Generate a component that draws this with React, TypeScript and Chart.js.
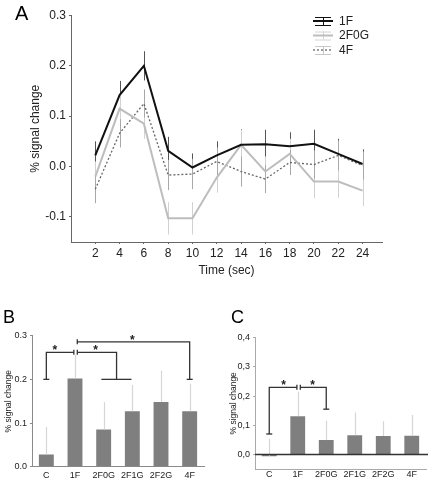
import React, { useEffect, useRef } from "react";
import { Chart, registerables } from "chart.js";
Chart.register(...registerables);

const FONT = "'Liberation Sans', Arial, sans-serif";

// ---------- Panel A data ----------
const timePoints = [2, 4, 6, 8, 10, 12, 14, 16, 18, 20, 22, 24];
const series1F = [0.022, 0.142, 0.2, 0.031, -0.002, 0.022, 0.043, 0.044, 0.04, 0.045, 0.025, 0.005];
const err1F = [0.028, 0.028, 0.029, 0.028, 0.028, 0.028, 0.031, 0.029, 0.028, 0.028, 0.03, 0.029];
const series2F0G = [-0.02, 0.115, 0.085, -0.103, -0.103, -0.022, 0.043, -0.01, 0.025, -0.03, -0.03, -0.048];
const err2F0G = [0.03, 0.03, 0.03, 0.032, 0.032, 0.03, 0.03, 0.03, 0.03, 0.033, 0.032, 0.031];
const series4F = [-0.045, 0.066, 0.125, -0.017, -0.015, 0.01, -0.01, -0.025, 0.008, 0.004, 0.022, 0.002];
const err4F = [0.028, 0.028, 0.028, 0.03, 0.03, 0.028, 0.03, 0.028, 0.025, 0.028, 0.03, 0.028];
const yTicksA = [-0.1, 0, 0.1, 0.2, 0.3];

// ---------- Panels B / C data ----------
const groups = ["C", "1F", "2F0G", "2F1G", "2F2G", "4F"];
const valuesB = [0.028, 0.202, 0.085, 0.127, 0.148, 0.127];
const errB = [0.063, 0.054, 0.063, 0.06, 0.072, 0.063];
const yTicksB = [0, 0.1, 0.2, 0.3];
const valuesC = [-0.006, 0.131, 0.049, 0.066, 0.063, 0.064];
const errC = [0.06, 0.084, 0.066, 0.078, 0.051, 0.071];
const yTicksC = [0, 0.1, 0.2, 0.3, 0.4];

// significance brackets, in data units (category index, value)
const bracketsB = [
  { pts: [[0, 0.2], [0, 0.262], [0.96, 0.262]], start: "h", end: "v" },
  { pts: [[1.08, 0.262], [2.45, 0.262], [2.45, 0.2]], start: "v", end: "" },
  { pts: [[1.92, 0.2], [2.97, 0.2]], start: "", end: "" },
  { pts: [[1.08, 0.286], [5, 0.286], [5, 0.2]], start: "v", end: "h" },
];
const starsB = [[0.3, 0.273], [1.72, 0.273], [3.0, 0.295]];
const bracketsC = [
  { pts: [[0, 0.07], [0, 0.23], [0.97, 0.23]], start: "h", end: "v" },
  { pts: [[1.09, 0.23], [2, 0.23], [2, 0.155]], start: "v", end: "h" },
];
const starsC = [[0.5, 0.246], [1.52, 0.246]];

function drawErrors(chart: any, both: boolean) {
  const { ctx } = chart;
  const y = chart.scales.y;
  chart.data.datasets.forEach((ds: any, di: number) => {
    if (!ds.errors) return;
    const meta = chart.getDatasetMeta(di);
    ctx.save();
    ctx.strokeStyle = ds.errColor;
    ctx.lineWidth = ds.errWidth || 1;
    meta.data.forEach((el: any, i: number) => {
      const ePx = y.getPixelForValue(0) - y.getPixelForValue(ds.errors[i]);
      const px = Math.round(el.x) + 0.5;
      ctx.beginPath();
      ctx.moveTo(px, both ? el.y + ePx : el.y);
      ctx.lineTo(px, el.y - ePx);
      ctx.stroke();
    });
    ctx.restore();
  });
}

function letterPlugin(letter: string, x: number, y: number, size: number) {
  return {
    id: "letter" + letter,
    afterDraw(chart: any) {
      const { ctx } = chart;
      ctx.save();
      ctx.fillStyle = "#000";
      ctx.font = `${size}px ${FONT}`;
      ctx.textBaseline = "alphabetic";
      ctx.textAlign = "left";
      ctx.fillText(letter, x, y);
      ctx.restore();
    },
  };
}

function bracketPlugin(brackets: any[], stars: number[][]) {
  return {
    id: "brackets",
    afterDatasetsDraw(chart: any) {
      const { ctx } = chart;
      const xs = chart.scales.x;
      const ys = chart.scales.y;
      const P = (p: number[]) => [xs.getPixelForValue(p[0]), ys.getPixelForValue(p[1])];
      ctx.save();
      ctx.strokeStyle = "#333";
      ctx.lineWidth = 1.3;
      brackets.forEach((b) => {
        const pts = b.pts.map(P);
        ctx.beginPath();
        pts.forEach((p: number[], i: number) => (i ? ctx.lineTo(p[0], p[1]) : ctx.moveTo(p[0], p[1])));
        ctx.stroke();
        const cap = (p: number[], kind: string) => {
          ctx.beginPath();
          if (kind === "h") {
            ctx.moveTo(p[0] - 3, p[1]);
            ctx.lineTo(p[0] + 3, p[1]);
          } else if (kind === "v") {
            ctx.moveTo(p[0], p[1] - 2.5);
            ctx.lineTo(p[0], p[1] + 2.5);
          }
          ctx.stroke();
        };
        cap(pts[0], b.start);
        cap(pts[pts.length - 1], b.end);
      });
      ctx.fillStyle = "#222";
      ctx.font = `bold 12px ${FONT}`;
      ctx.textAlign = "center";
      ctx.textBaseline = "middle";
      stars.forEach((s) => {
        const p = P(s);
        ctx.fillText("*", p[0], p[1] + 3);
      });
      ctx.restore();
    },
  };
}

const legendA = [
  { label: "1F", color: "#111", errColor: "#111", dash: [] as number[], width: 2 },
  { label: "2F0G", color: "#bdbdbd", errColor: "#d4d4d4", dash: [] as number[], width: 2 },
  { label: "4F", color: "#666", errColor: "#c8c8c8", dash: [2, 2], width: 1.3 },
];

const legendPluginA = {
  id: "legendA",
  afterDraw(chart: any) {
    const { ctx } = chart;
    ctx.save();
    legendA.forEach((it, i) => {
      const cy = 21 + i * 14.5;
      const x0 = 313, x1 = 333, cx = 323;
      ctx.strokeStyle = it.errColor;
      ctx.lineWidth = 1;
      ctx.setLineDash([]);
      ctx.beginPath();
      ctx.moveTo(cx + 0.5, cy - 4);
      ctx.lineTo(cx + 0.5, cy + 4);
      ctx.moveTo(x0 + 2, cy - 4 + 0.5);
      ctx.lineTo(x1 - 2, cy - 4 + 0.5);
      ctx.moveTo(x0 + 2, cy + 4 + 0.5);
      ctx.lineTo(x1 - 2, cy + 4 + 0.5);
      ctx.stroke();
      ctx.strokeStyle = it.color;
      ctx.lineWidth = it.width;
      ctx.setLineDash(it.dash);
      ctx.beginPath();
      ctx.moveTo(x0, cy);
      ctx.lineTo(x1, cy);
      ctx.stroke();
      ctx.setLineDash([]);
      ctx.fillStyle = "#222";
      ctx.font = `12px ${FONT}`;
      ctx.textAlign = "left";
      ctx.textBaseline = "middle";
      ctx.fillText(it.label, 339, cy + 0.5);
    });
    ctx.restore();
  },
};

function ChartA() {
  const ref = useRef<HTMLCanvasElement>(null);
  useEffect(() => {
    const mk = (d: number[]) => timePoints.map((t, i) => ({ x: t, y: d[i] }));
    const chart = new Chart(ref.current!, {
      type: "line",
      data: {
        datasets: [
          { label: "1F", data: mk(series1F), borderColor: "#111", borderWidth: 2, pointRadius: 0, tension: 0, errors: err1F, errColor: "#555" } as any,
          { label: "2F0G", data: mk(series2F0G), borderColor: "#bdbdbd", borderWidth: 2, pointRadius: 0, tension: 0, errors: err2F0G, errColor: "#d2d2d2" } as any,
          { label: "4F", data: mk(series4F), borderColor: "#666", borderWidth: 1.3, borderDash: [2, 2], pointRadius: 0, tension: 0, errors: err4F, errColor: "#a8a8a8" } as any,
        ],
      },
      options: {
        responsive: false,
        animation: false,
        layout: { padding: { top: 15.5, right: 48, left: 0, bottom: 0 } },
        plugins: { legend: { display: false }, tooltip: { enabled: false } },
        scales: {
          x: {
            type: "linear",
            min: 0,
            max: 25.6,
            afterBuildTicks: (s: any) => { s.ticks = timePoints.map((v) => ({ value: v })); },
            grid: { display: true, drawOnChartArea: false, drawTicks: true, tickLength: 2, color: "#666" },
            border: { display: true, color: "#666", width: 1 },
            ticks: { font: { family: FONT, size: 12 }, color: "#222", padding: 2, maxRotation: 0, autoSkip: false, callback: (v: any) => String(v) },
            title: { display: true, text: "Time (sec)", font: { family: FONT, size: 12 }, color: "#222", padding: { top: 0, bottom: 7 } },
            afterFit: (s: any) => { s.height = 43; },
          },
          y: {
            min: -0.15,
            max: 0.3,
            afterBuildTicks: (s: any) => { s.ticks = yTicksA.map((v) => ({ value: v })); },
            grid: { display: true, drawOnChartArea: false, drawTicks: true, tickLength: 2, color: "#666" },
            border: { display: true, color: "#666", width: 1 },
            ticks: { font: { family: FONT, size: 12 }, color: "#222", padding: 3, callback: (v: any) => (Math.round(v * 10) / 10).toFixed(1) },
            title: { display: true, text: "% signal change", font: { family: FONT, size: 12 }, color: "#222", padding: { top: 28, bottom: 0 } },
            afterFit: (s: any) => { s.width = 71; },
          },
        },
      },
      plugins: [
        { id: "errA", beforeDatasetsDraw: (c: any) => drawErrors(c, true) },
        legendPluginA,
        letterPlugin("A", 15, 20, 20),
      ],
    } as any);
    return () => chart.destroy();
  }, []);
  return <canvas ref={ref} width={430} height={285} style={{ position: "absolute", left: 0, top: 0 }} />;
}

function BarPanel(props: {
  values: number[]; errors: number[]; ticks: number[]; min: number; max: number;
  comma: boolean; padTop: number; padRight: number; yWidth: number; xHeight: number;
  titlePad: number; xPad: number; letter: string; letterX: number; zeroLine: boolean;
  brackets: any[]; stars: number[][]; left: number; axisColor: string;
}) {
  const ref = useRef<HTMLCanvasElement>(null);
  useEffect(() => {
    const p = props;
    const chart = new Chart(ref.current!, {
      type: "bar",
      data: {
        labels: groups,
        datasets: [
          { data: p.values, backgroundColor: "#7f7f7f", barPercentage: 0.52, categoryPercentage: 1, errors: p.errors, errColor: "#d6d6d6", errWidth: 1.2 } as any,
        ],
      },
      options: {
        responsive: false,
        animation: false,
        layout: { padding: { top: p.padTop, right: p.padRight, left: 0, bottom: 0 } },
        plugins: { legend: { display: false }, tooltip: { enabled: false } },
        scales: {
          x: {
            grid: { display: false, drawTicks: false, tickLength: 0 },
            border: { display: true, color: p.axisColor, width: 1 },
            ticks: { font: { family: FONT, size: 9 }, color: "#222", padding: p.xPad, maxRotation: 0, autoSkip: false },
            afterFit: (s: any) => { s.height = p.xHeight; },
          },
          y: {
            min: p.min,
            max: p.max,
            afterBuildTicks: (s: any) => { s.ticks = p.ticks.map((v) => ({ value: v })); },
            grid: { display: true, drawOnChartArea: false, drawTicks: true, tickLength: 2, color: p.axisColor },
            border: { display: true, color: p.axisColor, width: 1 },
            ticks: {
              font: { family: FONT, size: 9 }, color: "#222", padding: 3,
              callback: (v: any) => {
                const s = (Math.round(v * 10) / 10).toFixed(1);
                return p.comma ? s.replace(".", ",") : s;
              },
            },
            title: { display: true, text: "% signal change", font: { family: FONT, size: 8.5 }, color: "#222", padding: { top: p.titlePad, bottom: 0 } },
            afterFit: (s: any) => { s.width = p.yWidth; },
          },
        },
      },
      plugins: [
        { id: "errBar", afterDatasetsDraw: (c: any) => drawErrors(c, false) },
        {
          id: "zero",
          afterDatasetsDraw: (c: any) => {
            if (!p.zeroLine) return;
            const { ctx, chartArea } = c;
            const y0 = c.scales.y.getPixelForValue(0);
            ctx.save();
            ctx.strokeStyle = "#333";
            ctx.lineWidth = 1.5;
            ctx.beginPath();
            ctx.moveTo(chartArea.left, y0);
            ctx.lineTo(chartArea.right + 2, y0);
            ctx.stroke();
            ctx.restore();
          },
        },
        bracketPlugin(p.brackets, p.stars),
        letterPlugin(p.letter, p.letterX, 33, 18),
      ],
    } as any);
    return () => chart.destroy();
  }, []);
  return <canvas ref={ref} width={215} height={191} style={{ position: "absolute", left: props.left, top: 290 }} />;
}

export default function App() {
  useEffect(() => {
    document.body.style.margin = "0";
  }, []);
  return (
    <div style={{ position: "absolute", left: 0, top: 0, width: 430, height: 481, background: "#fff", overflow: "hidden" }}>
      <ChartA />
      <BarPanel
        values={valuesB} errors={errB} ticks={yTicksB} min={0} max={0.3} comma={false}
        padTop={45.7} padRight={11} yWidth={32} xHeight={14.3} titlePad={3.5} xPad={3}
        letter="B" letterX={3} zeroLine={false} brackets={bracketsB} stars={starsB} left={0} axisColor="#8a8a8a"
      />
      <BarPanel
        values={valuesC} errors={errC} ticks={yTicksC} min={-0.05} max={0.4} comma={true}
        padTop={47.7} padRight={4} yWidth={40} xHeight={12} titlePad={14} xPad={0.2}
        letter="C" letterX={16} zeroLine={true} brackets={bracketsC} stars={starsC} left={215} axisColor="#aaaaaa"
      />
    </div>
  );
}
